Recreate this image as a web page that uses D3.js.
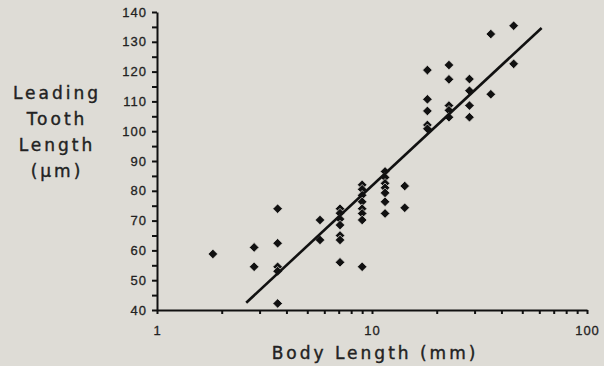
<!DOCTYPE html>
<html>
<head>
<meta charset="utf-8">
<script src="https://cdn.jsdelivr.net/npm/d3@7"></script>
<style>
  html, body { margin: 0; padding: 0; background: #dedcd6; }
  svg { display: block; font-family: "DejaVu Sans", sans-serif; }
</style>
</head>
<body>
<div id="chart"></div>
<script>
// body length (mm) and leading tooth length (um), one pair per specimen
const bodyLength = [
  1.82,
  2.83, 2.83,
  3.64, 3.64, 3.64, 3.64, 3.64,
  5.73, 5.73,
  7.1, 7.1, 7.1, 7.1, 7.1, 7.1, 7.1,
  9.0, 9.0, 9.0, 9.0, 9.0, 9.0, 9.0, 9.0,
  11.5, 11.5, 11.5, 11.5, 11.5, 11.5, 11.5,
  14.2, 14.2,
  18.1, 18.1, 18.1, 18.1, 18.1,
  22.8, 22.8, 22.8, 22.8, 22.8,
  28.4, 28.4, 28.4, 28.4,
  35.7, 35.7,
  45.6, 45.6
]
const toothLength = [
  58.8,
  61, 54.5,
  74, 62.4, 54.5, 53, 42.2,
  70.2, 63.5,
  74, 72.5, 70.5, 68.5, 65, 63.5, 56,
  82, 80.5, 78.5, 76.3, 74, 72.4, 70.2, 54.5,
  86.5, 84.5, 82.5, 81, 79.3, 76.3, 72.4,
  81.6, 74.3,
  120.5, 110.7, 106.8, 102.1, 100.8,
  122.2, 117.4, 108.6, 107, 104.7,
  117.5, 113.6, 108.6, 104.7,
  132.6, 112.4,
  135.4, 122.6
]

// regression line y = a + b*log10(x), drawn over this x range
const fitRange = [2.6, 61.5]
const fitIntercept = 14.6
const fitSlope = 67.1

const xTickLabels = [1, 10, 100]
const yTickLabels = [40, 50, 60, 70, 80, 90, 100, 110, 120, 130, 140]
const yTitle = ["Leading", "Tooth", "Length", "(\u00b5m)"]
const xTitle = "Body Length (mm)"

const width = 604
const height = 366
const marginLeft = 157
const marginRight = 17
const marginTop = 12
const marginBottom = 56
const ink = "#111"
const textInk = "#222"
const bg = "#dedcd6"

const xScale = d3.scaleLog().domain([1, 100]).range([marginLeft, width - marginRight])
const yScale = d3.scaleLinear().domain([40, 140]).range([height - marginBottom, marginTop])

const svg = d3
  .create("svg")
  .attr("viewBox", [0, 0, width, height])
  .attr("width", width)
  .attr("height", height)

svg.append("rect").attr("width", width).attr("height", height).attr("fill", bg)

// minor ticks for the log axis: 2..9, 20..90
const xMinor = d3.range(1, 3).flatMap(p => d3.range(2, 10).map(m => m * Math.pow(10, p - 1)))
const xAxis = d3
  .axisBottom(xScale)
  .tickValues(xTickLabels.concat(xMinor))
  .tickFormat(d => (xTickLabels.includes(d) ? d : ""))
  .tickSize(4)
  .tickPadding(12)
  .tickSizeOuter(0)

const yMinor = d3.range(45, 140, 10)
const yAxis = d3
  .axisLeft(yScale)
  .tickValues(yTickLabels.concat(yMinor))
  .tickFormat(d => (yTickLabels.includes(d) ? d : ""))
  .tickSize(5)
  .tickPadding(5)
  .tickSizeOuter(0)

const styleAxis = g => {
  g.select(".domain").attr("stroke", ink).attr("stroke-width", 2)
  g.selectAll(".tick line").attr("stroke", ink).attr("stroke-width", 2)
  g.selectAll(".tick text")
    .attr("fill", textInk)
    .attr("stroke", textInk)
    .attr("stroke-width", 0.3)
    .attr("font-size", 13)
    .attr("letter-spacing", 1)
}

svg
  .append("g")
  .attr("transform", `translate(0, ${height - marginBottom})`)
  .call(xAxis)
  .call(styleAxis)

svg
  .append("g")
  .attr("transform", `translate(${marginLeft}, 0)`)
  .call(yAxis)
  .call(styleAxis)

// points
const diamond = d3.symbol().type(d3.symbolSquare).size(46)
svg
  .append("g")
  .selectAll("path")
  .data(d3.range(bodyLength.length))
  .join("path")
  .attr("d", diamond)
  .attr("transform", i => `translate(${xScale(bodyLength[i])}, ${yScale(toothLength[i])}) rotate(45)`)
  .attr("fill", ink)
  .attr("stroke", bg)
  .attr("stroke-width", 0.7)

// fitted line
const fit = x => fitIntercept + fitSlope * Math.log10(x)
svg
  .append("line")
  .attr("x1", xScale(fitRange[0]))
  .attr("y1", yScale(fit(fitRange[0])))
  .attr("x2", xScale(fitRange[1]))
  .attr("y2", yScale(fit(fitRange[1])))
  .attr("stroke", ink)
  .attr("stroke-width", 2.6)

// axis titles
svg
  .append("text")
  .attr("x", xScale(10) + 3)
  .attr("y", 359)
  .attr("text-anchor", "middle")
  .attr("font-size", 17)
  .attr("letter-spacing", 3)
  .attr("fill", textInk)
  .attr("stroke", textInk)
  .attr("stroke-width", 0.4)
  .text(xTitle)

svg
  .append("g")
  .selectAll("text")
  .data(yTitle)
  .join("text")
  .attr("x", 57)
  .attr("y", (d, i) => 99 + i * 26)
  .attr("text-anchor", "middle")
  .attr("font-size", 17)
  .attr("letter-spacing", 3)
  .attr("fill", textInk)
  .attr("stroke", textInk)
  .attr("stroke-width", 0.4)
  .text(d => d)

document.querySelector("#chart").append(svg.node())
</script>
</body>
</html>
